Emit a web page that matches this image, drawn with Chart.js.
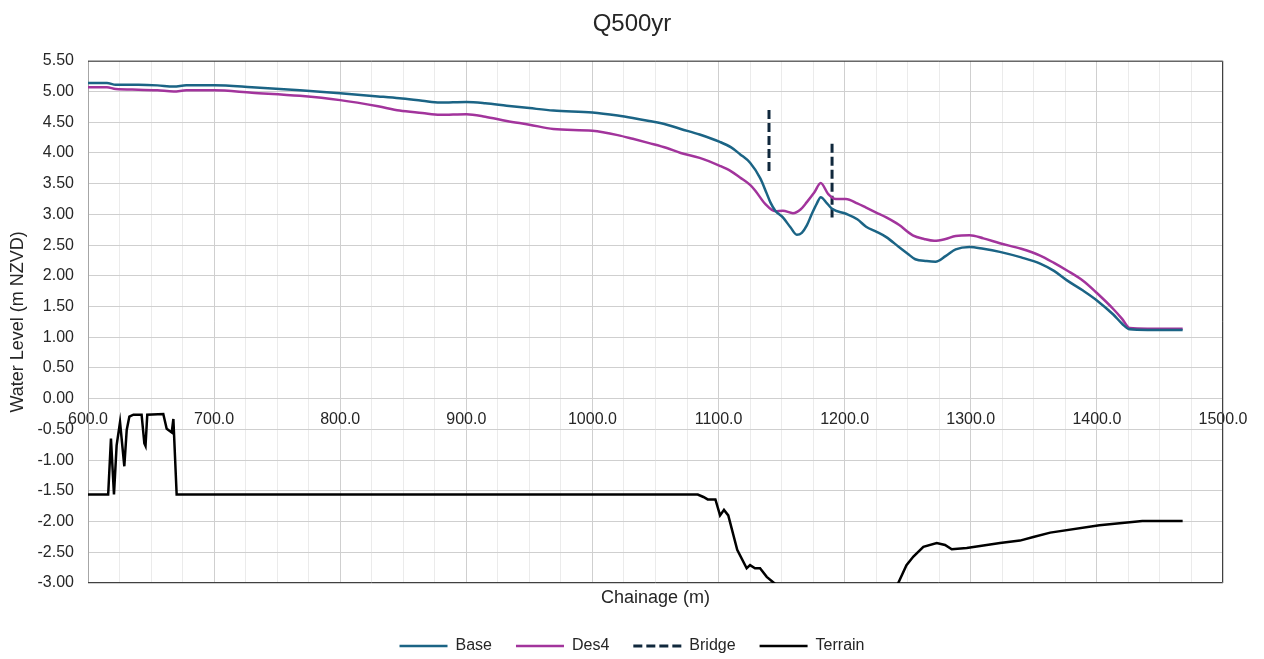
<!DOCTYPE html>
<html>
<head>
<meta charset="utf-8">
<script src="https://cdn.jsdelivr.net/npm/chart.js@4/dist/chart.umd.min.js"></script>
<style>
  body { margin: 0; background: #fff; }
  canvas { display: block; }
</style>
</head>
<body>
<canvas id="myChart" width="1264" height="659"></canvas>
<script>
// chainage (m) / water level (m NZVD)
const baseChainage = [600, 615, 622, 640, 655, 668, 678, 700, 730, 768, 800, 830, 847, 865, 879, 900, 915, 932, 950, 969,
  1000, 1020, 1032, 1045, 1059, 1070, 1085, 1101, 1110, 1117, 1125, 1133, 1138, 1141, 1145, 1151, 1157, 1162, 1166, 1170,
  1174, 1178, 1181, 1186, 1190, 1201, 1210, 1217, 1225, 1233, 1243, 1250, 1256, 1265, 1272, 1280, 1288, 1299, 1310, 1323,
  1340, 1355, 1366, 1376, 1389, 1400, 1413, 1420, 1426, 1440, 1468];
const baseLevel = [5.14, 5.14, 5.11, 5.11, 5.10, 5.08, 5.10, 5.10, 5.07, 5.02, 4.97, 4.92, 4.89, 4.85, 4.82, 4.83, 4.81, 4.77, 4.73, 4.69,
  4.66, 4.61, 4.57, 4.52, 4.46, 4.39, 4.30, 4.18, 4.09, 3.98, 3.84, 3.59, 3.35, 3.20, 3.06, 2.95, 2.79, 2.67, 2.70, 2.82,
  3.01, 3.18, 3.28, 3.18, 3.09, 3.01, 2.92, 2.80, 2.72, 2.63, 2.47, 2.36, 2.27, 2.24, 2.23, 2.32, 2.43, 2.47, 2.44, 2.39,
  2.30, 2.20, 2.08, 1.93, 1.76, 1.60, 1.37, 1.22, 1.13, 1.12, 1.12];

const des4Chainage = [600, 615, 622, 640, 655, 668, 678, 700, 730, 768, 800, 830, 847, 865, 879, 900, 915, 932, 950, 969,
  1000, 1020, 1032, 1045, 1059, 1070, 1085, 1101, 1110, 1117, 1125, 1129, 1137, 1145, 1151, 1159, 1165, 1170, 1176, 1181,
  1187, 1193, 1201, 1210, 1217, 1225, 1233, 1243, 1254, 1263, 1271, 1280, 1288, 1299, 1310, 1323, 1340, 1355, 1366, 1376,
  1389, 1400, 1413, 1420, 1426, 1440, 1468];
const des4Level = [5.07, 5.07, 5.04, 5.03, 5.02, 5.00, 5.02, 5.02, 4.98, 4.93, 4.86, 4.76, 4.69, 4.65, 4.62, 4.63, 4.59, 4.52, 4.46, 4.39,
  4.36, 4.29, 4.23, 4.16, 4.08, 4.00, 3.92, 3.79, 3.70, 3.60, 3.48, 3.39, 3.17, 3.05, 3.06, 3.02, 3.08, 3.20, 3.36, 3.51,
  3.33, 3.25, 3.25, 3.18, 3.11, 3.03, 2.95, 2.83, 2.66, 2.60, 2.57, 2.60, 2.65, 2.66, 2.61, 2.53, 2.44, 2.33, 2.21, 2.09,
  1.92, 1.72, 1.46, 1.30, 1.15, 1.14, 1.14];

// two bridge piers, null level breaks the line between them
const bridgeChainage = [1140, 1140, 1165, 1190, 1190];
const bridgeLevel = [4.70, 3.70, null, 4.15, 2.95];

const terrainChainage = [600, 616, 618.2, 620.6, 622.7, 625.4, 628.8, 630.7, 632.8, 636, 642.5, 644.7, 645.6, 647, 659.7, 662.4,
  666.4, 667.7, 670.3, 1083.5, 1088, 1091.4, 1097.5, 1101.2, 1104.3, 1107.7, 1114.8, 1122.3, 1125, 1128.9, 1132.9, 1138.2,
  1144, 1155, 1200, 1235, 1242.5, 1249, 1254.5, 1262.4, 1273, 1279.6, 1284.9, 1296.8, 1323.2, 1339, 1349.6, 1363, 1402,
  1436, 1468];
const terrainLevel = [-1.56, -1.56, -0.65, -1.56, -0.76, -0.38, -1.10, -0.51, -0.29, -0.26, -0.26, -0.73, -0.77, -0.26, -0.25, -0.49,
  -0.55, -0.33, -1.56, -1.56, -1.60, -1.64, -1.64, -1.90, -1.81, -1.90, -2.46, -2.76, -2.71, -2.76, -2.76, -2.90,
  -3.00, -3.20, -3.40, -3.20, -3.00, -2.71, -2.57, -2.41, -2.35, -2.38, -2.45, -2.43, -2.35, -2.31, -2.25, -2.18, -2.06,
  -1.99, -1.99];

const toPoints = (xs, ys) => xs.map((x, i) => ({x: x, y: ys[i]}));

const textColor = '#262626';
const fontFamily = 'Arial, "Liberation Sans", sans-serif';

// frame round the plot area
const framePlugin = {
  id: 'frame',
  beforeDatasetsDraw(chart) {
    const {ctx, chartArea: a} = chart;
    ctx.save();
    ctx.lineWidth = 1;
    ctx.strokeStyle = '#a6a6a6';
    ctx.beginPath();
    ctx.moveTo(a.left + 0.5, a.top);
    ctx.lineTo(a.left + 0.5, a.bottom);
    ctx.stroke();
    ctx.strokeStyle = '#404040';
    ctx.beginPath();
    ctx.moveTo(a.left, a.top + 0.5);
    ctx.lineTo(a.right - 0.5, a.top + 0.5);
    ctx.lineTo(a.right - 0.5, a.bottom - 0.5);
    ctx.lineTo(a.left, a.bottom - 0.5);
    ctx.stroke();
    ctx.restore();
  }
};

new Chart('myChart', {
  type: 'line',
  data: {
    datasets: [
      {label: 'Base', data: toPoints(baseChainage, baseLevel), borderColor: '#1b6485', backgroundColor: '#1b6485', borderWidth: 2.5, cubicInterpolationMode: 'monotone'},
      {label: 'Des4', data: toPoints(des4Chainage, des4Level), borderColor: '#a2349c', backgroundColor: '#a2349c', borderWidth: 2.5, cubicInterpolationMode: 'monotone'},
      {label: 'Bridge', data: toPoints(bridgeChainage, bridgeLevel), borderColor: '#10283c', backgroundColor: 'transparent', borderWidth: 3, borderDash: [9, 4], spanGaps: false},
      {label: 'Terrain', data: toPoints(terrainChainage, terrainLevel), borderColor: '#000000', backgroundColor: '#000000', borderWidth: 2.5}
    ]
  },
  options: {
    responsive: false,
    animation: false,
    elements: {
      point: {radius: 0, hoverRadius: 0},
      line: {tension: 0}
    },
    layout: {padding: {left: 0, right: 0, top: 0, bottom: -5}},
    plugins: {
      title: {
        display: true,
        text: 'Q500yr',
        color: textColor,
        font: {family: fontFamily, size: 24, weight: 'normal'},
        padding: {top: 10, bottom: 22}
      },
      legend: {
        position: 'bottom',
        labels: {
          usePointStyle: true,
          pointStyle: 'line',
          pointStyleWidth: 48,
          boxHeight: 16,
          padding: 24,
          color: textColor,
          font: {family: fontFamily, size: 16},
          // legend sample lines take colour, width and dash from the dataset
          generateLabels(chart) {
            const items = Chart.defaults.plugins.legend.labels.generateLabels(chart);
            items.forEach(item => {
              const ds = chart.data.datasets[item.datasetIndex];
              item.strokeStyle = ds.borderColor;
              item.lineWidth = ds.borderWidth;
              item.lineDash = ds.borderDash || [];
              item.lineCap = 'butt';
            });
            return items;
          }
        }
      },
      tooltip: {enabled: false}
    },
    scales: {
      x: {
        type: 'linear',
        min: 600,
        max: 1500,
        afterFit(scale) { scale.height = 31; },
        ticks: {display: false, stepSize: 25},
        grid: {
          drawTicks: false,
          color: (c) => (c.tick && c.tick.value % 100 === 0) ? '#cfcfcf' : '#ebebeb'
        },
        border: {display: false},
        title: {
          display: true,
          text: 'Chainage (m)',
          color: textColor,
          font: {family: fontFamily, size: 18},
          padding: {top: 0, bottom: 5}
        }
      },
      x2: {
        type: 'linear',
        position: {y: 0},
        min: 600,
        max: 1500,
        grid: {display: false, drawTicks: false},
        border: {display: false},
        ticks: {
          stepSize: 100,
          padding: 11,
          color: textColor,
          font: {family: fontFamily, size: 16},
          callback: (v) => v.toFixed(1)
        }
      },
      y: {
        min: -3,
        max: 5.5,
        afterFit(scale) { scale.width = 88; },
        ticks: {
          stepSize: 0.25,
          padding: 14,
          color: textColor,
          font: {family: fontFamily, size: 16},
          callback: (v) => (Math.round(v * 100) % 50 === 0) ? v.toFixed(2) : ''
        },
        grid: {
          drawTicks: false,
          color: (c) => (c.tick && Math.round(c.tick.value * 100) % 50 === 0) ? '#cfcfcf' : '#ebebeb'
        },
        border: {display: false},
        title: {
          display: true,
          text: 'Water Level (m NZVD)',
          color: textColor,
          font: {family: fontFamily, size: 18},
          padding: {top: 7, bottom: 0}
        }
      },
      // empty right-hand axis, only keeps the margin right of the plot
      yRight: {
        position: 'right',
        min: -3,
        max: 5.5,
        afterFit(scale) { scale.width = 41; },
        ticks: {display: false},
        grid: {display: false, drawTicks: false},
        border: {display: false}
      }
    }
  },
  plugins: [framePlugin]
});
</script>
</body>
</html>
